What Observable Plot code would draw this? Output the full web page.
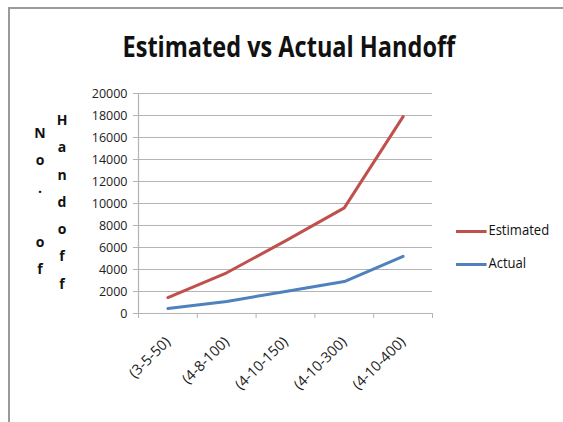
<!DOCTYPE html>
<html>
<head>
<meta charset="utf-8">
<script src="https://cdn.jsdelivr.net/npm/d3@7"></script>
<script src="https://cdn.jsdelivr.net/npm/@observablehq/plot@0.6"></script>
<style>
  html, body { margin: 0; padding: 0; background: #fff; }
  #wrap { position: relative; width: 563px; height: 422px; overflow: hidden; font-family: "Open Sans", sans-serif; }
  #frame { position: absolute; left: 8px; top: 7px; width: 600px; height: 500px; border-top: 2px solid #9a9a9a; border-left: 2px solid #9a9a9a; }
  #title { position: absolute; left: 0; width: 578px; top: 27px; text-align: center; font-size: 28px; font-weight: bold; color: #111; transform: scaleX(0.84); transform-origin: 288px 0; }
  .ycol { position: absolute; width: 20px; text-align: center; font-size: 14px; font-weight: bold; line-height: 27.3px; color: #111; }
  .leg { position: absolute; left: 456px; font-size: 14.5px; color: #111; transform: scaleX(0.9); transform-origin: 0 0; }
  .leg span.sw { display: inline-block; width: 34px; height: 3px; vertical-align: middle; margin-right: 2px; }
  #chart { position: absolute; left: 0; top: 0; }
</style>
</head>
<body>
<div id="wrap">
  <div id="frame"></div>
  <div id="chart"></div>
  <div id="title">Estimated vs Actual Handoff</div>
  <div class="ycol" id="ycol1" style="left:30px; top:119px;">N<br>o<br>.<br>&nbsp;<br>o<br>f</div>
  <div class="ycol" id="ycol2" style="left:52px; top:106px;">H<br>a<br>n<br>d<br>o<br>f<br>f</div>
  <div class="leg" style="top:220px;"><span class="sw" style="background:#C0504D"></span>Estimated</div>
  <div class="leg" style="top:253px;"><span class="sw" style="background:#4F81BD"></span>Actual</div>
</div>
<script>
const categories = ["(3-5-50)", "(4-8-100)", "(4-10-150)", "(4-10-300)", "(4-10-400)"];
const estimated = [1450, 3700, 6600, 9600, 17900];
const actual = [450, 1100, 2000, 2900, 5200];
const yTicks = [0, 2000, 4000, 6000, 8000, 10000, 12000, 14000, 16000, 18000, 20000];
const seriesNames = ["Estimated", "Actual"];
const seriesColors = ["#C0504D", "#4F81BD"];

const rows = [];
categories.forEach((c, i) => {
  rows.push({series: seriesNames[0], i: i + 0.5, value: estimated[i]});
  rows.push({series: seriesNames[1], i: i + 0.5, value: actual[i]});
});
const boundaries = d3.range(categories.length + 1);
const centers = categories.map((c, i) => i + 0.5);

const chart = Plot.plot({
  width: 563,
  height: 422,
  marginLeft: 138,
  marginRight: 131,
  marginTop: 93,
  marginBottom: 109,
  style: {fontFamily: "'Open Sans', sans-serif", background: "transparent", color: "#222"},
  x: {domain: [0, categories.length], axis: null},
  y: {domain: [0, 20000], axis: null},
  color: {domain: seriesNames, range: seriesColors},
  marks: [
    Plot.gridY(yTicks, {stroke: "#b4b4b4", strokeOpacity: 1, strokeWidth: 1.2}),
    Plot.ruleX([0], {stroke: "#b4b4b4", strokeWidth: 1.2}),
    Plot.axisY(yTicks, {label: null, tickSize: 5, tickPadding: 6, tickFormat: d3.format("d"), fontSize: 12.5, stroke: "#b4b4b4", fill: "#222"}),
    Plot.axisX(boundaries, {label: null, tickSize: 5, tickFormat: () => "", stroke: "#b4b4b4"}),
    Plot.axisX(centers, {label: null, tickSize: 0, tickPadding: 26, tickRotate: -45, fontSize: 14.5, fill: "#1a1a1a",
      tickFormat: (d) => categories[Math.round(d - 0.5)]}),
    Plot.line(rows, {x: "i", y: "value", z: "series", stroke: "series", strokeWidth: 3})
  ]
});
document.getElementById("chart").appendChild(chart);
</script>
</body>
</html>
